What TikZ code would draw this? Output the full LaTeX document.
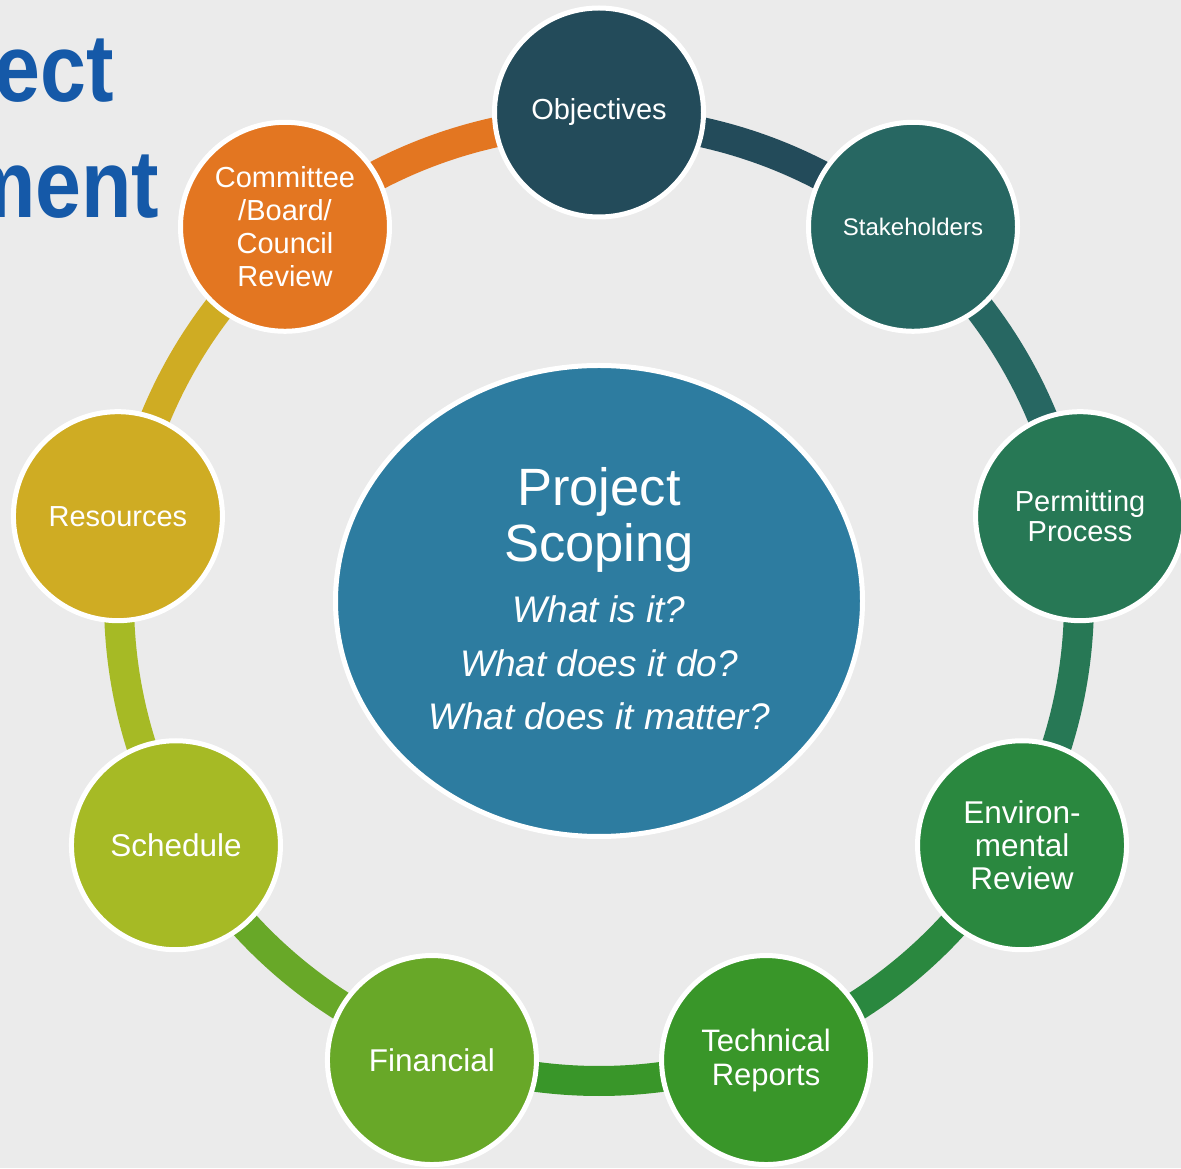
\documentclass[tikz,border=0pt]{standalone}
\usepackage{fontspec}
\setmainfont{Liberation Sans}
\usetikzlibrary{shapes.geometric}
\definecolor{bgc}{HTML}{EBEBEB}
\definecolor{cObj}{HTML}{234B5A}
\definecolor{cStk}{HTML}{276762}
\definecolor{cPer}{HTML}{277855}
\definecolor{cEnv}{HTML}{2A883F}
\definecolor{cTec}{HTML}{399629}
\definecolor{cFin}{HTML}{68A828}
\definecolor{cSch}{HTML}{A6BA25}
\definecolor{cRes}{HTML}{CFAC23}
\definecolor{cCom}{HTML}{E37621}
\definecolor{cCore}{HTML}{2D7CA0}
\definecolor{cTitle}{HTML}{1559A8}
\begin{document}
\begin{tikzpicture}[x=1pt,y=1pt,
  bubble/.style={circle, fill=#1, draw=white, line width=5pt, minimum size=209pt,
    inner sep=0pt, text=white, align=center},
  ringarc/.style={line width=30pt, draw=#1},
  titletext/.style={anchor=base east, inner sep=0pt, text=cTitle,
    font=\bfseries\fontsize{96}{96}\selectfont},
  coretext/.style={anchor=base, inner sep=0pt, text=white}]
\useasboundingbox (0,0) rectangle (1181,1168);
\clip (0,0) rectangle (1181,1168);
\fill[bgc] (0,0) rectangle (1181,1168);
\coordinate (ctr) at (599,567);
% title (cut off by the page edge)
\node[titletext] (ttlA) at (114.5,1066) {\scalebox{0.86}[1]{Project}};
\node[titletext] (ttlB) at (159.5,950) {\scalebox{0.86}[1]{Management}};
% ring arcs
\draw[ringarc=cObj] ([shift={(90:480)}]ctr) arc[start angle=90, end angle=50, radius=480pt];
\draw[ringarc=cStk] ([shift={(50:480)}]ctr) arc[start angle=50, end angle=10, radius=480pt];
\draw[ringarc=cPer] ([shift={(10:480)}]ctr) arc[start angle=10, end angle=-30, radius=480pt];
\draw[ringarc=cEnv] ([shift={(-30:480)}]ctr) arc[start angle=-30, end angle=-70, radius=480pt];
\draw[ringarc=cTec] ([shift={(-70:480)}]ctr) arc[start angle=-70, end angle=-110, radius=480pt];
\draw[ringarc=cFin] ([shift={(-110:480)}]ctr) arc[start angle=-110, end angle=-150, radius=480pt];
\draw[ringarc=cSch] ([shift={(-150:480)}]ctr) arc[start angle=-150, end angle=-190, radius=480pt];
\draw[ringarc=cRes] ([shift={(170:480)}]ctr) arc[start angle=170, end angle=130, radius=480pt];
\draw[ringarc=cCom] ([shift={(130:480)}]ctr) arc[start angle=130, end angle=90, radius=480pt];
% bubbles
\node[bubble=cObj, font=\fontsize{29}{32}\selectfont] (obj) at ([shift={(90:488.5)}]ctr) {Objectives};
\node[bubble=cStk, font=\fontsize{24}{28}\selectfont] (stk) at ([shift={(50:488.5)}]ctr) {Stakeholders};
\node[bubble=cPer, font=\fontsize{29}{29.5}\selectfont] (per) at ([shift={(10:488.5)}]ctr) {Permitting\\Process};
\node[bubble=cEnv, font=\fontsize{31.5}{33}\selectfont] (env) at ([shift={(-30:488.5)}]ctr) {Environ-\\mental\\Review};
\node[bubble=cTec, font=\fontsize{31}{34}\selectfont] (tec) at ([shift={(-70:488.5)}]ctr) {Technical\\Reports};
\node[bubble=cFin, font=\fontsize{31.5}{34}\selectfont] (fin) at ([shift={(-110:488.5)}]ctr) {Financial};
\node[bubble=cSch, font=\fontsize{31.5}{34}\selectfont] (sch) at ([shift={(-150:488.5)}]ctr) {Schedule};
\node[bubble=cRes, font=\fontsize{29}{32}\selectfont] (res) at ([shift={(170:488.5)}]ctr) {Resources};
\node[bubble=cCom, font=\fontsize{29}{33}\selectfont] (com) at ([shift={(130:488.5)}]ctr) {Committee\\/Board/\\Council\\Review};
% centre
\node[ellipse, fill=cCore, draw=white, line width=5pt, minimum width=527pt,
  minimum height=471pt, inner sep=0pt] (core) at (ctr) {};
\node[coretext, font=\fontsize{52.5}{56}\selectfont] (cA) at (599,662) {Project};
\node[coretext, font=\fontsize{52.5}{56}\selectfont] (cB) at (599,606) {Scoping};
\node[coretext, font=\itshape\fontsize{37}{40}\selectfont] (cC) at (599,545) {What is it?};
\node[coretext, font=\itshape\fontsize{37}{40}\selectfont] (cD) at (599,491) {What does it do?};
\node[coretext, font=\itshape\fontsize{37}{40}\selectfont] (cE) at (599,438) {What does it matter?};
\end{tikzpicture}
\end{document}
